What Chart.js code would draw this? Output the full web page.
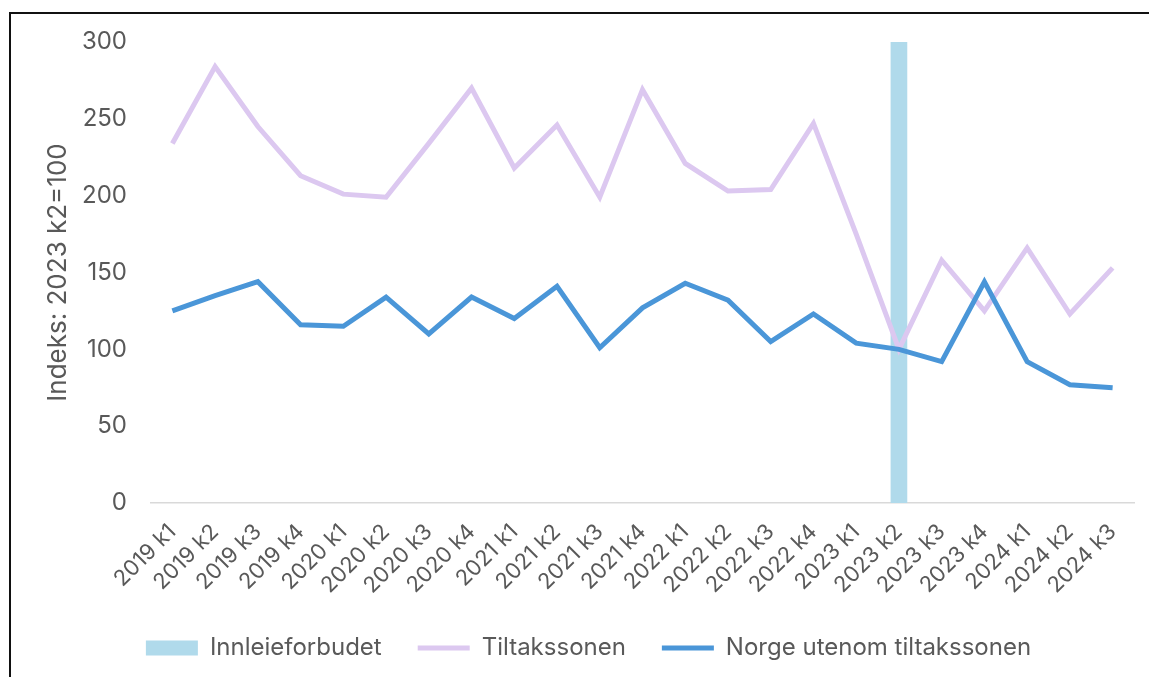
<!DOCTYPE html>
<html>
<head>
<meta charset="utf-8">
<script src="https://cdn.jsdelivr.net/npm/chart.js@4/dist/chart.umd.min.js"></script>
<style>
  html, body { margin: 0; padding: 0; background: #fff; }
  #wrap { position: relative; width: 1149px; height: 677px; overflow: hidden; }
  #frame { position: absolute; left: 9px; top: 12px; width: 1200px; height: 700px;
           border-left: 2px solid #111; border-top: 2px solid #111; }
  #cv { position: absolute; left: 0; top: 0; }
</style>
</head>
<body>
<div id="wrap">
  <div id="frame"></div>
  <canvas id="cv" width="1149" height="677"></canvas>
</div>
<script>
const labels = ['2019 k1','2019 k2','2019 k3','2019 k4','2020 k1','2020 k2','2020 k3','2020 k4',
  '2021 k1','2021 k2','2021 k3','2021 k4','2022 k1','2022 k2','2022 k3','2022 k4',
  '2023 k1','2023 k2','2023 k3','2023 k4','2024 k1','2024 k2','2024 k3'];
// innleieforbudet markeres som søyle i 2023 k2
const forbud = [null,null,null,null,null,null,null,null,null,null,null,null,null,null,null,null,
  null,300,null,null,null,null,null];
const tiltak = [234,284,245,213,201,199,234,270,218,246,199,269,221,203,204,247,
  175,100,158,125,166,123,153];
const norge = [125,135,144,116,115,134,110,134,120,141,101,127,143,132,105,123,
  104,100,92,144,92,77,75];
const yTicks = [0, 50, 100, 150, 200, 250, 300];

const GREY = '#595959', FONT = 'Inter';

new Chart(document.getElementById('cv'), {
  data: {
    labels,
    datasets: [
      {type: 'bar', label: 'Innleieforbudet', data: forbud, backgroundColor: '#b0daeb',
       barThickness: 16, order: 3},
      {type: 'line', label: 'Tiltakssonen', data: tiltak, borderColor: '#dcc8f0',
       borderWidth: 5, pointRadius: 0, tension: 0, order: 2},
      {type: 'line', label: 'Norge utenom tiltakssonen', data: norge, borderColor: '#4a96d8',
       borderWidth: 5, pointRadius: 0, tension: 0, order: 1},
    ]
  },
  options: {
    responsive: false, animation: false,
    layout: {padding: {left: 43, right: 15, top: 42, bottom: 7}},
    plugins: {
      tooltip: {enabled: false},
      legend: {
        position: 'bottom',
        labels: {
          color: GREY, font: {family: FONT, size: 24}, padding: 36,
          usePointStyle: true, pointStyleWidth: 52, boxHeight: 15,
          generateLabels: ch => ch.data.datasets.map((d, i) => ({
            text: d.label, datasetIndex: i,
            pointStyle: d.type === 'bar' ? 'rect' : 'line',
            fillStyle: d.type === 'bar' ? d.backgroundColor : d.borderColor,
            strokeStyle: d.type === 'bar' ? d.backgroundColor : d.borderColor,
            lineWidth: d.type === 'bar' ? 0 : 5, fontColor: GREY,
          }))
        }
      }
    },
    scales: {
      x: {
        grid: {display: false, drawTicks: false},
        border: {display: true, color: '#d9d9d9', width: 1.5},
        ticks: {color: GREY, font: {family: FONT, size: 22}, maxRotation: 45, minRotation: 45,
                autoSkip: false, padding: 16},
        afterFit: s => { s.height = 97; }
      },
      y: {
        min: 0, max: 300,
        grid: {display: false, drawTicks: false}, border: {display: false},
        afterBuildTicks: s => { s.ticks = yTicks.map(v => ({value: v})); },
        ticks: {color: GREY, font: {family: FONT, size: 24}, padding: 24},
        title: {display: true, text: 'Indeks: 2023 k2=100', color: GREY, font: {family: FONT, size: 26},
                padding: {top: 0, bottom: 0}},
        afterFit: s => { s.width = 108; }
      }
    }
  }
});
</script>
</body>
</html>
